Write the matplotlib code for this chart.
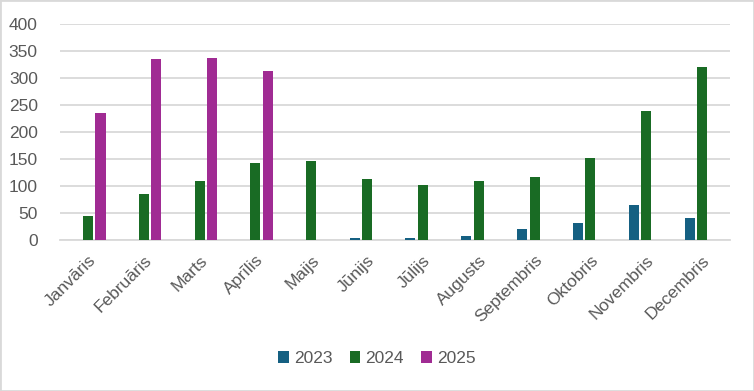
import numpy as np
import matplotlib.pyplot as plt
from matplotlib.patches import Rectangle

months = ['Janvāris', 'Februāris', 'Marts', 'Aprīlis', 'Maijs', 'Jūnijs',
          'Jūlijs', 'Augusts', 'Septembris', 'Oktobris', 'Novembris', 'Decembris']
years = ['2023', '2024', '2025']
v2023 = [0, 0, 0, 0, 0, 4, 4, 7, 20, 31, 65, 41]
v2024 = [44, 85, 109, 143, 146, 113, 102, 109, 117, 152, 239, 320]
v2025 = [235, 335, 337, 313, 0, 0, 0, 0, 0, 0, 0, 0]
colors = ['#156082', '#196B24', '#A02B93']

plt.rcParams['font.family'] = ['Liberation Sans', 'DejaVu Sans']

fig = plt.figure(figsize=(7.54, 3.91), dpi=100)
ax = fig.add_axes([0.0796, 0.386, 0.8886, 0.5526])

x = np.arange(len(months))
width = 0.18
step = 0.225
for i, (vals, c, lab) in enumerate(zip([v2023, v2024, v2025], colors, years)):
    ax.bar(x + (i - 1) * step, vals, width, color=c, label=lab, zorder=3)

ax.set_xlim(-0.5, len(months) - 0.5)
ax.set_ylim(0, 400)
ax.set_yticks(range(0, 401, 50))
ax.yaxis.grid(True, color='#d9d9d9', linewidth=1.3, zorder=0)
for s in ['top', 'right', 'left']:
    ax.spines[s].set_visible(False)
ax.spines['bottom'].set_color('#d9d9d9')
ax.spines['bottom'].set_linewidth(1.3)
ax.tick_params(axis='both', length=0, colors='#595959', labelsize=12.5)
ax.tick_params(axis='y', pad=16)
ax.tick_params(axis='x', pad=9)
ax.set_xticks(x)
ax.set_xticklabels(months, rotation=45, ha='right', rotation_mode='anchor')

fig.legend(loc='center', bbox_to_anchor=(0.5, 0.083), ncol=3, frameon=False,
           fontsize=12.5, handlelength=0.6, handleheight=0.7, handletextpad=0.3,
           columnspacing=1.0, labelcolor='#595959')

fig.patches.append(Rectangle((0, 0), 1, 1, transform=fig.transFigure, fill=False,
                             edgecolor='#d9d9d9', linewidth=2))

fig.savefig('out.png', dpi=100)
